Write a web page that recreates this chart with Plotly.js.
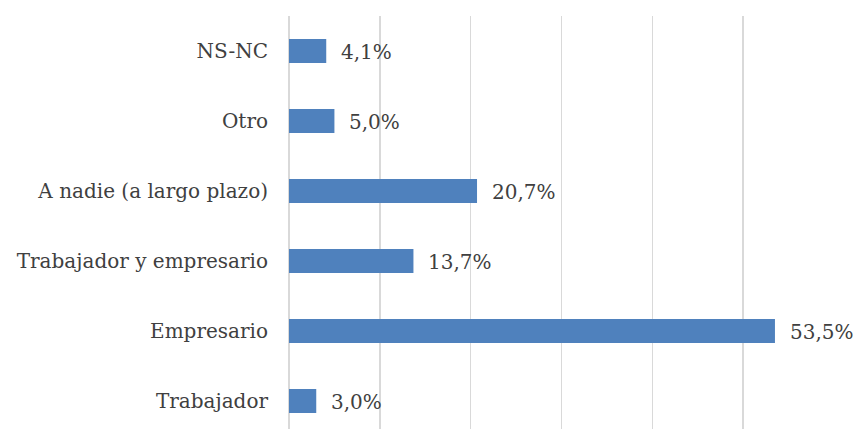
<!DOCTYPE html>
<html>
<head>
<meta charset="utf-8">
<script src="https://cdn.plot.ly/plotly-3.0.1.min.js"></script>
<style>html,body{margin:0;padding:0;background:#fff;}#chart{width:858px;height:429px;}</style>
</head>
<body>
<div id="chart"></div>
<script>
const categories = ["Trabajador", "Empresario", "Trabajador y empresario", "A nadie (a largo plazo)", "Otro", "NS-NC"];
const values = [3.0, 53.5, 13.7, 20.7, 5.0, 4.1];
const valueLabels = ["3,0%", "53,5%", "13,7%", "20,7%", "5,0%", "4,1%"];

const FONT = "DejaVu Serif";
const TXT = "#404040";

const trace = {
  type: "bar",
  orientation: "h",
  x: values,
  y: categories,
  marker: {color: "#4f81bd", line: {width: 0}},
  hoverinfo: "none"
};

const annotations = values.map((v, i) => ({
  x: v, y: categories[i], xref: "x", yref: "y",
  text: valueLabels[i], showarrow: false,
  xanchor: "left", xshift: 13, yshift: -1,
  font: {family: FONT, size: 20, color: TXT}
}));

const layout = {
  width: 858, height: 429,
  margin: {l: 289, r: 24, t: 16, b: 0, pad: 0},
  paper_bgcolor: "#fff", plot_bgcolor: "#fff",
  showlegend: false,
  bargap: 0.657,
  xaxis: {
    range: [0, 60], dtick: 10, showticklabels: false,
    showgrid: true, gridcolor: "#d9d9d9", gridwidth: 1.5,
    zeroline: true, zerolinecolor: "#d9d9d9", zerolinewidth: 1.5,
    showline: false, ticks: ""
  },
  yaxis: {
    type: "category", range: [-0.4, 5.5],
    showgrid: false, zeroline: false, showline: false, ticks: "",
    ticklabelstandoff: 20,
    tickfont: {family: FONT, size: 20, color: TXT}
  },
  annotations: annotations
};

Plotly.newPlot("chart", [trace], layout, {displayModeBar: false, staticPlot: true});
</script>
</body>
</html>
